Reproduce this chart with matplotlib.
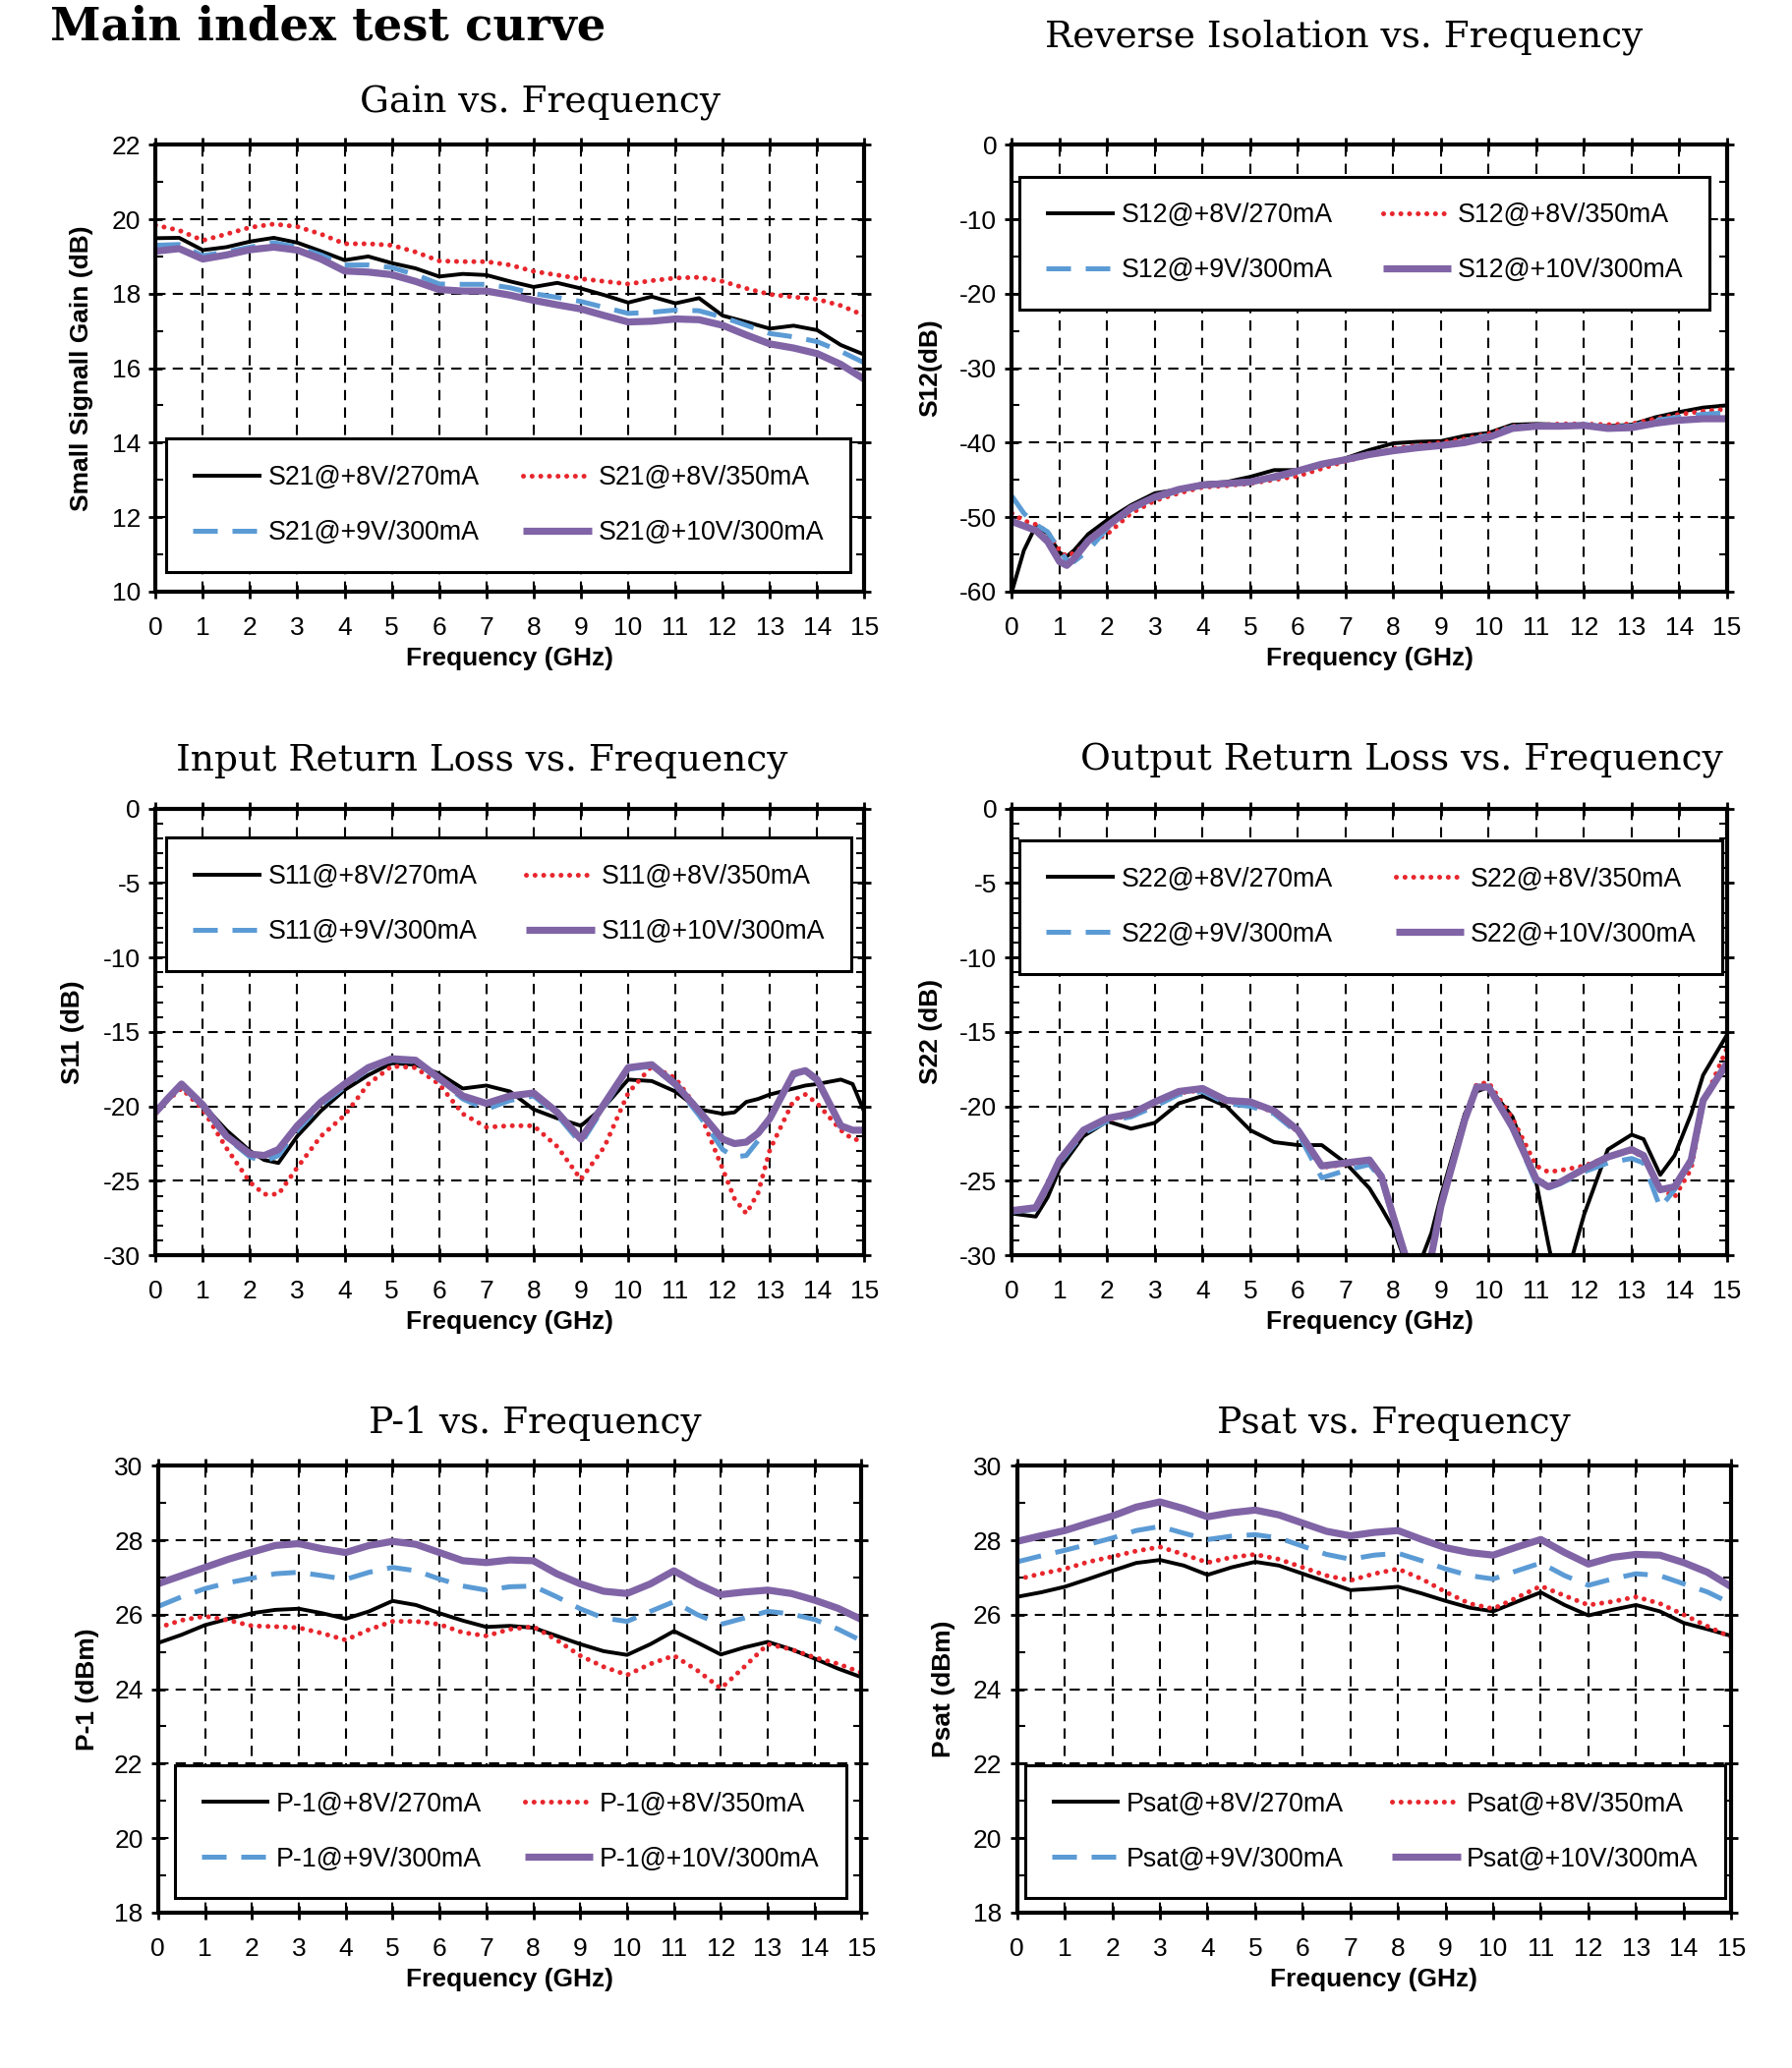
import matplotlib
matplotlib.use('Agg')
import matplotlib.pyplot as plt
from matplotlib.ticker import MultipleLocator

plt.rcParams['font.family'] = ['Liberation Sans', 'DejaVu Sans']
plt.rcParams['axes.unicode_minus'] = False

# ---------------- data ----------------
freq_half = [0, 0.5, 1, 1.5, 2, 2.5, 3, 3.5, 4, 4.5, 5, 5.5, 6, 6.5, 7, 7.5,
             8, 8.5, 9, 9.5, 10, 10.5, 11, 11.5, 12, 12.5, 13, 13.5, 14, 14.5, 15]

# Gain vs. Frequency (dB)
gain_8v270 = [19.49, 19.5, 19.17, 19.25, 19.4, 19.5, 19.37, 19.14, 18.9, 19.0, 18.82,
              18.68, 18.46, 18.53, 18.5, 18.33, 18.18, 18.29, 18.14, 17.96, 17.76, 17.92,
              17.74, 17.88, 17.41, 17.24, 17.06, 17.14, 17.02, 16.62, 16.36]
gain_8v350 = [19.84, 19.7, 19.43, 19.6, 19.78, 19.87, 19.8, 19.6, 19.34, 19.34, 19.3,
              19.12, 18.88, 18.86, 18.86, 18.77, 18.6, 18.5, 18.4, 18.33, 18.26, 18.35,
              18.42, 18.44, 18.33, 18.14, 17.98, 17.91, 17.85, 17.68, 17.41]
gain_9v300 = [19.3, 19.32, 19.02, 19.12, 19.25, 19.37, 19.25, 19.04, 18.77, 18.77, 18.7,
              18.51, 18.26, 18.25, 18.25, 18.16, 18.0, 17.9, 17.79, 17.63, 17.47, 17.5,
              17.56, 17.54, 17.37, 17.15, 16.93, 16.84, 16.71, 16.45, 16.14]
gain_10v300 = [19.14, 19.21, 18.93, 19.04, 19.18, 19.25, 19.17, 18.93, 18.61, 18.58, 18.51,
               18.33, 18.11, 18.07, 18.07, 17.96, 17.82, 17.7, 17.59, 17.41, 17.24, 17.26,
               17.32, 17.3, 17.15, 16.89, 16.65, 16.54, 16.39, 16.1, 15.7]

# Reverse isolation S12 (dB)
freq_s12 = [0, 0.25, 0.5, 0.75, 1, 1.15, 1.3, 1.6, 2, 2.5, 3, 3.5, 4, 4.5, 5, 5.5, 6,
            6.5, 7, 7.5, 8, 8.5, 9, 9.5, 10, 10.5, 11, 11.5, 12, 12.5, 13, 13.5, 14, 14.5, 15]
s12_8v270 = [-60, -54.5, -51.2, -52.2, -54.8, -55.3, -54.5, -52.3, -50.4, -48.4, -46.8,
             -46.3, -45.5, -45.3, -44.6, -43.7, -43.7, -43.1, -42.1, -41.0, -40.1, -39.9,
             -39.8, -39.1, -38.7, -37.6, -37.5, -37.6, -37.6, -37.8, -37.6, -36.6, -35.9,
             -35.3, -35.0]
s12_8v350 = [-49.5, -50.5, -51.0, -52.0, -54.5, -55.3, -54.8, -53.5, -52.3, -49.5, -47.8,
             -46.8, -46.0, -45.8, -45.5, -45.0, -44.5, -43.5, -42.5, -41.7, -40.8, -40.4,
             -40.0, -39.5, -38.8, -37.8, -37.7, -37.5, -37.5, -37.6, -37.5, -36.8, -36.2,
             -35.8, -35.5]
s12_9v300 = [-47.2, -49.5, -51.0, -52.0, -54.5, -55.8, -56.0, -54.5, -51.5, -49.0, -47.5,
             -46.5, -45.8, -45.4, -45.2, -44.8, -44.0, -43.0, -42.3, -41.5, -41.0, -40.6,
             -40.3, -39.8, -39.0, -37.9, -37.8, -37.7, -37.6, -37.9, -37.8, -37.0, -36.6,
             -36.2, -36.0]
s12_10v300 = [-50.6, -51.2, -51.8, -53.3, -56.0, -56.5, -55.6, -53.2, -51.2, -48.8, -47.3,
              -46.3, -45.7, -45.5, -45.3, -44.6, -43.8, -42.9, -42.3, -41.6, -41.1, -40.7,
              -40.4, -40.0, -39.3, -38.1, -37.8, -37.8, -37.7, -38.1, -38.0, -37.4, -37.0,
              -36.8, -36.8]

# Input return loss S11 (dB)
freq_s11 = [0, 0.25, 0.55, 1, 1.5, 2, 2.3, 2.6, 3, 3.5, 4, 4.5, 5, 5.5, 6, 6.5, 7, 7.5,
            8, 8.5, 9, 9.5, 10, 10.5, 11, 11.5, 12, 12.25, 12.5, 12.75, 13, 13.5, 13.75,
            14, 14.5, 14.75, 15]
s11_8v270 = [-20.5, -19.5, -18.5, -19.9, -21.6, -23.0, -23.6, -23.8, -22.0, -20.3, -18.9,
             -17.9, -17.1, -17.2, -17.8, -18.8, -18.6, -19.0, -20.2, -20.8, -21.3, -20.0,
             -18.2, -18.3, -19.0, -20.2, -20.5, -20.4, -19.7, -19.5, -19.2, -18.8, -18.6,
             -18.5, -18.2, -18.5, -20.4]
s11_8v350 = [-20.5, -19.6, -18.8, -20.2, -22.8, -25.1, -25.9, -25.9, -24.1, -22.0, -20.6,
             -18.5, -17.3, -17.4, -18.5, -20.5, -21.4, -21.3, -21.3, -22.7, -24.9, -22.7,
             -19.1, -17.3, -18.1, -20.3, -24.2, -26.2, -27.2, -25.8, -22.9, -19.6, -19.2,
             -19.8, -21.6, -22.2, -22.3]
s11_9v300 = [-20.4, -19.5, -18.6, -20.0, -22.1, -23.4, -23.7, -23.3, -21.6, -19.9, -18.7,
             -17.5, -16.9, -17.0, -18.2, -19.5, -20.2, -19.6, -19.3, -20.6, -22.5, -20.0,
             -17.5, -17.3, -18.6, -20.6, -22.9, -23.4, -23.3, -22.3, -20.7, -17.9, -17.7,
             -18.3, -21.3, -21.6, -21.6]
s11_10v300 = [-20.4, -19.5, -18.5, -19.9, -22.0, -23.2, -23.3, -22.9, -21.3, -19.7, -18.5,
              -17.4, -16.8, -16.9, -18.1, -19.3, -19.8, -19.3, -19.1, -20.4, -22.2, -19.8,
              -17.4, -17.2, -18.5, -20.3, -22.2, -22.5, -22.4, -21.8, -20.8, -17.8, -17.6,
              -18.2, -21.3, -21.6, -21.6]

# Output return loss S22 (dB)
freq_s22 = [0, 0.5, 0.75, 1, 1.5, 2, 2.5, 3, 3.5, 4, 4.5, 5, 5.5, 6, 6.5, 7, 7.5, 7.75,
            8, 8.25, 8.5, 8.8, 9, 9.5, 9.75, 10, 10.5, 11, 11.25, 11.5, 12, 12.5, 13,
            13.25, 13.6, 13.9, 14.25, 14.5, 15]
s22_8v270 = [-27.2, -27.4, -26.1, -24.2, -22.0, -21.0, -21.5, -21.1, -19.8, -19.3, -20.0,
             -21.6, -22.4, -22.6, -22.6, -23.8, -25.5, -26.8, -28.2, -30.4, -31.0, -28.5,
             -26.0, -20.5, -19.0, -18.7, -20.7, -25.1, -29.2, -33.0, -27.3, -22.9, -21.9,
             -22.2, -24.6, -23.3, -20.5, -17.9, -15.2]
s22_8v350 = [-27.1, -26.9, -25.4, -23.7, -21.7, -20.9, -20.6, -19.8, -19.1, -18.9, -19.7,
             -19.8, -20.4, -21.7, -24.1, -23.9, -23.7, -24.8, -27.5, -30.1, -31.5, -30.0,
             -26.6, -20.7, -18.5, -18.4, -20.8, -24.0, -24.4, -24.3, -24.0, -23.4, -23.0,
             -23.4, -25.5, -26.1, -24.2, -19.8, -16.1]
s22_9v300 = [-27.1, -26.9, -25.4, -23.8, -21.8, -21.0, -20.7, -20.0, -19.2, -19.0, -19.8,
             -20.0, -20.5, -21.8, -24.8, -24.3, -23.9, -24.9, -27.6, -30.2, -31.5, -30.0,
             -26.6, -20.9, -18.8, -18.8, -21.5, -25.2, -25.5, -25.2, -24.4, -23.8, -23.5,
             -23.8, -26.8, -25.6, -23.8, -19.8, -17.0]
s22_10v300 = [-27.0, -26.8, -25.3, -23.6, -21.6, -20.8, -20.5, -19.7, -19.0, -18.8, -19.6,
              -19.7, -20.3, -21.6, -24.0, -23.8, -23.6, -24.7, -27.4, -30.0, -31.5, -30.0,
              -26.7, -20.9, -18.7, -18.7, -21.4, -24.9, -25.4, -25.1, -24.2, -23.4, -22.9,
              -23.3, -25.6, -25.4, -23.6, -19.6, -17.1]

# P-1 (dBm)
p1_8v270 = [25.24, 25.46, 25.72, 25.89, 26.04, 26.13, 26.16, 26.04, 25.89, 26.09, 26.37,
            26.26, 26.04, 25.84, 25.67, 25.7, 25.65, 25.43, 25.21, 25.02, 24.92, 25.21,
            25.56, 25.25, 24.93, 25.12, 25.27, 25.07, 24.82, 24.55, 24.32]
p1_8v350 = [25.65, 25.85, 25.96, 25.85, 25.7, 25.68, 25.65, 25.5, 25.32, 25.6, 25.82,
            25.82, 25.74, 25.52, 25.43, 25.61, 25.68, 25.32, 24.9, 24.6, 24.38, 24.68,
            24.9, 24.5, 24.02, 24.6, 25.21, 25.07, 24.85, 24.68, 24.44]
p1_9v300 = [26.22, 26.48, 26.7, 26.86, 26.98, 27.1, 27.14, 27.05, 26.95, 27.14, 27.27,
            27.18, 26.96, 26.77, 26.66, 26.75, 26.77, 26.48, 26.16, 25.91, 25.82, 26.09,
            26.35, 26.0, 25.74, 25.91, 26.09, 26.02, 25.87, 25.61, 25.3]
p1_10v300 = [26.83, 27.05, 27.27, 27.49, 27.68, 27.86, 27.91, 27.77, 27.67, 27.86, 27.97,
             27.89, 27.67, 27.45, 27.4, 27.47, 27.45, 27.1, 26.83, 26.63, 26.57, 26.83,
             27.18, 26.83, 26.54, 26.61, 26.66, 26.57, 26.39, 26.17, 25.87]

# Psat (dBm)
psat_8v270 = [26.48, 26.6, 26.75, 26.96, 27.18, 27.39, 27.47, 27.32, 27.07, 27.27, 27.42,
              27.32, 27.1, 26.88, 26.66, 26.7, 26.75, 26.57, 26.37, 26.19, 26.09, 26.35,
              26.6, 26.26, 25.98, 26.13, 26.26, 26.09, 25.78, 25.61, 25.43]
psat_8v350 = [26.95, 27.1, 27.23, 27.42, 27.56, 27.71, 27.82, 27.62, 27.4, 27.54, 27.62,
              27.49, 27.27, 27.05, 26.92, 27.1, 27.23, 26.96, 26.61, 26.3, 26.16, 26.46,
              26.77, 26.51, 26.26, 26.35, 26.48, 26.3, 26.0, 25.69, 25.39]
psat_9v300 = [27.42, 27.58, 27.73, 27.89, 28.06, 28.26, 28.37, 28.19, 28.02, 28.11, 28.15,
              28.06, 27.84, 27.62, 27.49, 27.6, 27.65, 27.45, 27.23, 27.05, 26.96, 27.18,
              27.39, 27.05, 26.79, 26.96, 27.1, 27.05, 26.83, 26.61, 26.3]
psat_10v300 = [27.97, 28.12, 28.26, 28.46, 28.65, 28.89, 29.03, 28.85, 28.63, 28.74, 28.81,
               28.68, 28.46, 28.24, 28.12, 28.21, 28.26, 28.02, 27.8, 27.67, 27.6, 27.82,
               28.02, 27.67, 27.36, 27.54, 27.62, 27.6, 27.4, 27.14, 26.75]

bias_points = ['+8V/270mA', '+8V/350mA', '+9V/300mA', '+10V/300mA']

# ---------------- styling ----------------
line_styles = [
    dict(color='black', lw=2.8, ls='-'),
    dict(color='#e8262d', lw=3.6, ls=(0, (0.01, 1.75)), dash_capstyle='round'),
    dict(color='#5b9bd5', lw=3.6, ls=(0, (5.0, 3.0))),
    dict(color='#8064a6', lw=5.2, ls='-'),
]
grid_ls = (0, (5, 3.5))
title_font = dict(family='DejaVu Serif', fontsize=27)

fig = plt.figure(figsize=(18.23, 21.04), dpi=100)


def draw_panel(rect, x, series, prefix, ylim, ymajor, yminor, ylabel, ylab_x,
               leg_x, leg_top, leg_w):
    ax = fig.add_axes(rect)
    lines = []
    for y, bias, st in zip(series, bias_points, line_styles):
        ln, = ax.plot(x, y, label=f'{prefix}@{bias}', solid_joinstyle='round',
                      solid_capstyle='butt', **st)
        lines.append(ln)
    ax.set_xlim(0, 15)
    ax.set_ylim(*ylim)
    ax.xaxis.set_major_locator(MultipleLocator(1))
    ax.yaxis.set_major_locator(MultipleLocator(ymajor))
    ax.yaxis.set_minor_locator(MultipleLocator(yminor))
    ax.grid(True, which='major', color='black', lw=1.5, ls=grid_ls)
    ax.set_axisbelow(True)
    for sp in ax.spines.values():
        sp.set_linewidth(3)
    ax.tick_params(which='major', direction='inout', length=10, width=2,
                   top=True, right=True, labelsize=19, colors='black')
    ax.tick_params(axis='x', which='major', pad=13)
    ax.tick_params(axis='y', which='major', pad=6)
    ax.tick_params(which='minor', direction='in', length=6, width=1.5,
                   left=True, right=True)
    ax.set_xlabel('Frequency (GHz)', fontsize=19, fontweight='bold')
    ax.xaxis.label.set_va('center')
    ax.xaxis.set_label_coords(0.5, -0.15)
    ax.set_ylabel(ylabel, fontsize=19, fontweight='bold')
    ax.yaxis.label.set_va('center')
    ax.yaxis.set_label_coords(ylab_x, 0.5)

    # legend filled column-wise, so reorder to get the reference row layout
    order = [lines[0], lines[2], lines[1], lines[3]]
    leg = ax.legend(order, [l.get_label() for l in order], ncol=2,
                    loc='upper left', bbox_to_anchor=(leg_x, leg_top - 0.3, leg_w, 0.3),
                    mode='expand', fontsize=19.3, frameon=True, fancybox=False,
                    edgecolor='black', framealpha=1, borderpad=1.0,
                    labelspacing=1.12, handlelength=2.6, handletextpad=0.25,
                    columnspacing=1.5, borderaxespad=0)
    leg.get_frame().set_linewidth(2.2)
    return ax


draw_panel([0.0868, 0.714, 0.3956, 0.216], freq_half,
           [gain_8v270, gain_8v350, gain_9v300, gain_10v300], 'S21',
           (10, 22), 2, 1, 'Small Signall Gain (dB)', -0.104, 0.015, 0.342, 0.965)
draw_panel([0.5647, 0.714, 0.399, 0.216], freq_s12,
           [s12_8v270, s12_8v350, s12_9v300, s12_10v300], 'S12',
           (-60, 0), 10, 5, 'S12(dB)', -0.114, 0.011, 0.929, 0.965)
draw_panel([0.0868, 0.393, 0.3956, 0.216], freq_s11,
           [s11_8v270, s11_8v350, s11_9v300, s11_10v300], 'S11',
           (-30, 0), 5, 1, 'S11 (dB)', -0.117, 0.015, 0.935, 0.966)
draw_panel([0.5647, 0.393, 0.399, 0.216], freq_s22,
           [s22_8v270, s22_8v350, s22_9v300, s22_10v300], 'S22',
           (-30, 0), 5, 1, 'S22 (dB)', -0.114, 0.011, 0.929, 0.983)
draw_panel([0.0882, 0.0752, 0.3926, 0.216], freq_half,
           [p1_8v270, p1_8v350, p1_9v300, p1_10v300], 'P-1',
           (18, 30), 2, 1, 'P-1 (dBm)', -0.101, 0.024, 0.330, 0.954)
draw_panel([0.5676, 0.0752, 0.3985, 0.216], freq_half,
           [psat_8v270, psat_8v350, psat_9v300, psat_10v300], 'Psat',
           (18, 30), 2, 1, 'Psat (dBm)', -0.103, 0.011, 0.330, 0.98)

fig.text(0.028, 0.987, 'Main index test curve', family='DejaVu Serif',
         fontsize=33.5, fontweight='bold', ha='left', va='center')
fig.text(0.3015, 0.950, 'Gain vs. Frequency', ha='center', va='center', **title_font)
fig.text(0.750, 0.982, 'Reverse Isolation vs. Frequency', ha='center', va='center', **title_font)
fig.text(0.269, 0.632, 'Input Return Loss vs. Frequency', ha='center', va='center', **title_font)
fig.text(0.782, 0.632, 'Output Return Loss vs. Frequency', ha='center', va='center', **title_font)
fig.text(0.2985, 0.312, 'P-1 vs. Frequency', ha='center', va='center', **title_font)
fig.text(0.778, 0.312, 'Psat vs. Frequency', ha='center', va='center', **title_font)

fig.savefig('out.png', dpi=100, facecolor='white')
